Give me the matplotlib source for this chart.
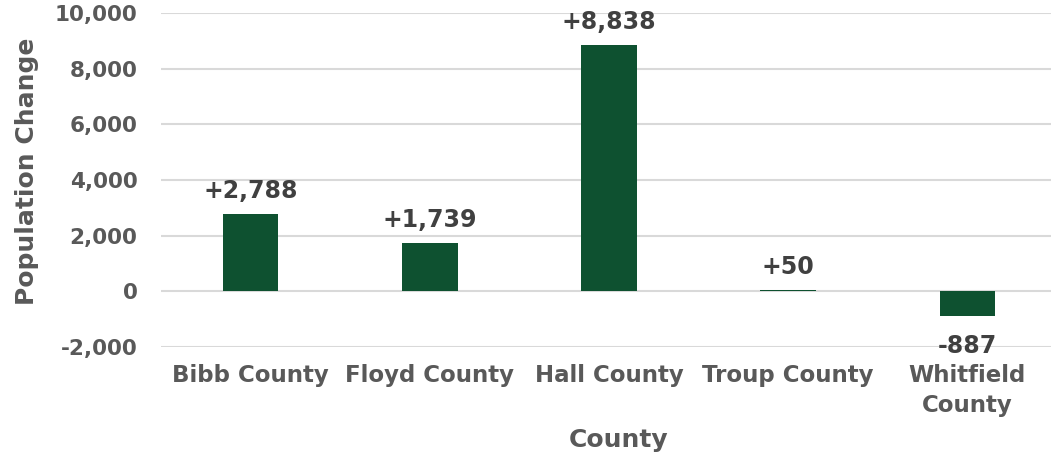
import matplotlib.pyplot as plt

counties = ['Bibb County', 'Floyd County', 'Hall County', 'Troup County', 'Whitfield\nCounty']
change = [2788, 1739, 8838, 50, -887]
labels = ['+2,788', '+1,739', '+8,838', '+50', '-887']

bar_color = '#0e5130'
tick_color = '#595959'
label_color = '#404040'

plt.rcParams['font.family'] = ['DejaVu Sans']
plt.rcParams['font.weight'] = 'bold'

fig = plt.figure(figsize=(10.51, 4.55), dpi=100)
ax = fig.add_axes([161 / 1051, 108 / 455, 896 / 1051, 334 / 455])

x = range(len(counties))
bars = ax.bar(x, change, width=0.31, color=bar_color, zorder=3)

for b, v, t in zip(bars, change, labels):
    cx = b.get_x() + b.get_width() / 2
    if v >= 0:
        ax.annotate(t, (cx, v), xytext=(0, 8), textcoords='offset points',
                    ha='center', va='bottom', fontsize=17, fontweight='bold', color=label_color)
    else:
        ax.annotate(t, (cx, v), xytext=(0, -13), textcoords='offset points',
                    ha='center', va='top', fontsize=17, fontweight='bold', color=label_color)

ax.set_ylim(-2000, 10000)
ax.set_xlim(-0.5, 4.5)
ax.set_yticks(range(-2000, 10001, 2000))
ax.set_yticklabels([f'{v:,}' for v in range(-2000, 10001, 2000)])
ax.set_xticks(list(x))
ax.set_xticklabels(counties, linespacing=1.4)

ax.grid(axis='y', color='#d9d9d9', linewidth=1.5, zorder=0)
ax.set_axisbelow(True)
for s in ax.spines.values():
    s.set_visible(False)
ax.tick_params(axis='y', length=0, pad=17, labelsize=15.5, labelcolor=tick_color)
ax.tick_params(axis='x', length=0, pad=12, labelsize=16.5, labelcolor=tick_color)
for lab in ax.get_xticklabels() + ax.get_yticklabels():
    lab.set_fontweight('bold')

ax.set_ylabel('Population Change', fontsize=18, fontweight='bold', color=tick_color)
ax.yaxis.set_label_coords((27 - 161) / 896, (347 - 171) / 334)
ax.yaxis.label.set_va('center')
ax.set_xlabel('County', fontsize=18, fontweight='bold', color=tick_color)
ax.xaxis.set_label_coords((619 - 161) / 896, -(440 - 347) / 334)
ax.xaxis.label.set_va('center')

fig.savefig('out.png', dpi=100)
